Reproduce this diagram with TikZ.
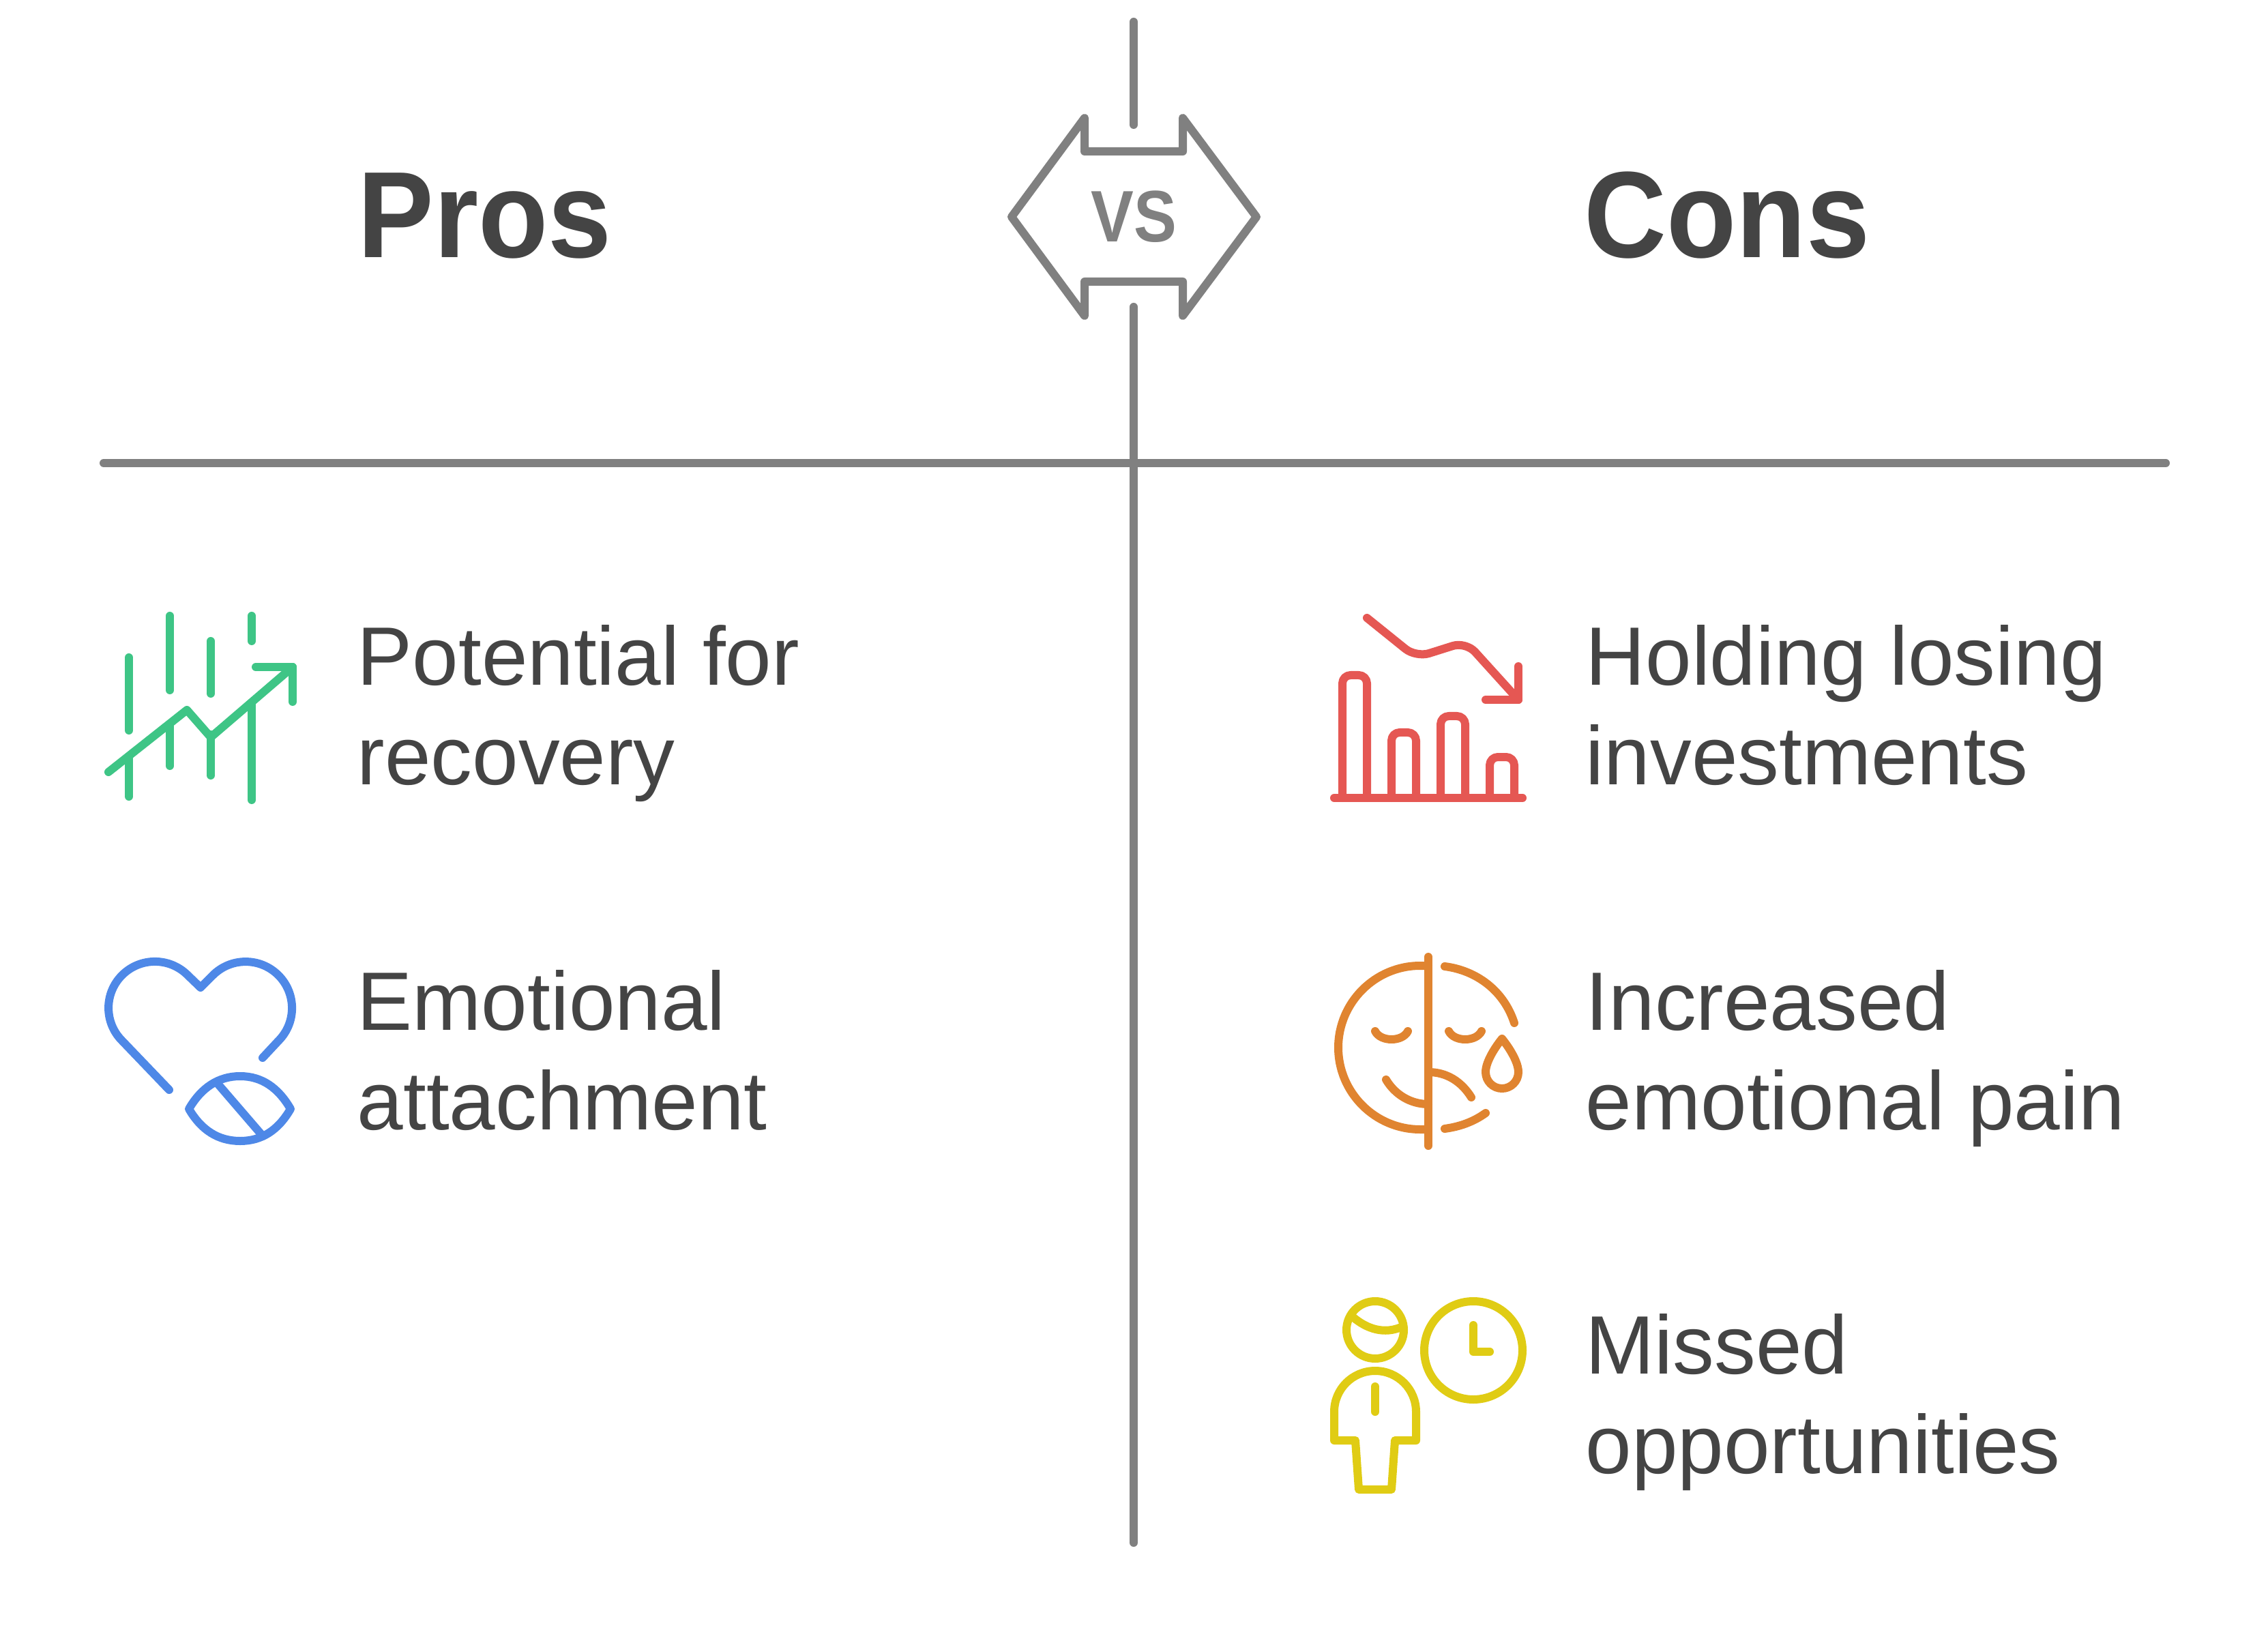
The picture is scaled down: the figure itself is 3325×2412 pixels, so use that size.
\documentclass[tikz,border=0pt]{standalone}
\usepackage{fontspec}
\setmainfont{Liberation Sans}
\newfontface\headface{Liberation Sans Bold}[FakeStretch=0.93]
\newfontface\vsface{Liberation Sans Bold}[FakeStretch=0.88]
\usetikzlibrary{positioning}
\definecolor{greyline}{HTML}{808080}
\definecolor{textgrey}{HTML}{444444}
\definecolor{prosgreen}{HTML}{3EC586}
\definecolor{heartblue}{HTML}{4E88E7}
\definecolor{lossred}{HTML}{E55753}
\definecolor{faceorange}{HTML}{E08430}
\definecolor{clockyellow}{HTML}{E0CC14}
\tikzset{
  axisline/.style = {line width = 1.2mm, color = greyline, line cap = round, line join = round},
  iconline/.style = {line width = 1.2mm, line cap = round, line join = round},
  headtext/.style = {anchor = base west, font = \fontsize{18mm}{18mm}\headface, color = textgrey, inner sep = 0},
  itemtext/.style = {anchor = base west, font = \fontsize{12.15mm}{14.6mm}\selectfont, color = textgrey, inner sep = 0},
}
\begin{document}
\begin{tikzpicture}[x = 0.1mm, y = -0.1mm]
\useasboundingbox (0, 0) rectangle (3325, 2412);
% axes
\coordinate (topa) at (1662, 32);
\coordinate (topb) at (1662, 183);
\coordinate (axisa) at (1662, 450);
\coordinate (axisb) at (1662, 2262);
\coordinate (rowa) at (152, 679);
\coordinate (rowb) at (3175, 679);
\draw [axisline] (topa) -- (topb);
\draw [axisline] (axisa) -- (axisb);
\draw [axisline] (rowa) -- (rowb);
% double arrow
\draw [axisline] (1483, 318) -- (1590, 173) -- (1590, 222) -- (1734, 222) -- (1734, 173) -- (1842, 318) -- (1734, 463) -- (1734, 413) -- (1590, 413) -- (1590, 463) -- cycle;
\node [font = \fontsize{10.7mm}{10.7mm}\vsface, color = greyline, inner sep = 0, anchor = base] (vs) at (1662, 355) {VS};
% headings
\node [headtext] (pros) at (524, 378) {Pros};
\node [headtext] (cons) at (2322, 378) {Cons};
% left items
\node [itemtext] (recovera) at (523, 1005) {Potential for};
\node [itemtext] (recoverb) at (523, 1151) {recovery};
\node [itemtext] (attacha) at (523, 1510) {Emotional};
\node [itemtext] (attachb) at (523, 1656) {attachment};
% right items
\node [itemtext] (holda) at (2324, 1005) {Holding losing};
\node [itemtext] (holdb) at (2324, 1151) {investments};
\node [itemtext] (paina) at (2324, 1510) {Increased};
\node [itemtext] (painb) at (2324, 1656) {emotional pain};
\node [itemtext] (misseda) at (2324, 2014) {Missed};
\node [itemtext] (missedb) at (2324, 2160) {opportunities};
% rising chart
\begin{scope}[iconline, color = prosgreen]
\draw (189, 964) -- (189, 1071);
\draw (189, 1110) -- (189, 1168);
\draw (249, 903) -- (249, 1012);
\draw (249, 1063) -- (249, 1123);
\draw (309, 940) -- (309, 1017);
\draw (309, 1077) -- (309, 1137);
\draw (369, 903) -- (369, 940);
\draw (369, 1030) -- (369, 1173);
\draw (159, 1132) -- (274, 1041) -- (309, 1081) -- (429, 978);
\draw (375, 978) -- (429, 978) -- (429, 1029);
\end{scope}
% heart and pill
\begin{scope}[iconline, color = heartblue]
\draw (248, 1598) -- (179, 1526) arc [start angle = 135, end angle = 315, radius = 68] -- (294, 1448) -- (312, 1430) arc [start angle = 225, end angle = 405, radius = 68] -- (385, 1551);
\draw (277, 1626) .. controls (295, 1595) and (320, 1578) .. (352, 1578) .. controls (384, 1578) and (408, 1595) .. (426, 1626) .. controls (408, 1657) and (384, 1673) .. (352, 1673) .. controls (320, 1673) and (295, 1657) .. cycle;
\draw (320, 1590) -- (382, 1662);
\end{scope}
% falling chart
\begin{scope}[iconline, color = lossred, rounded corners = 1.2mm]
\draw (1968, 1170) -- (1968, 990) -- (2004, 990) -- (2004, 1170);
\draw (2040, 1170) -- (2040, 1074) -- (2076, 1074) -- (2076, 1170);
\draw (2112, 1170) -- (2112, 1050) -- (2148, 1050) -- (2148, 1170);
\draw (2184, 1170) -- (2184, 1110) -- (2220, 1110) -- (2220, 1170);
\draw (1956, 1170) -- (2232, 1170);
\draw [rounded corners = 2mm] (2004, 906) -- (2076, 964) -- (2149, 941) -- (2226, 1026);
\draw [sharp corners] (2178, 1026) -- (2226, 1026) -- (2226, 977);
\end{scope}
% two faces
\begin{scope}[iconline, color = faceorange]
\draw (2094, 1403) -- (2094, 1680);
\draw (2094, 1416) -- (2082, 1416) .. controls (2016, 1416) and (1962, 1470) .. (1962, 1536) .. controls (1962, 1602) and (2016, 1656) .. (2082, 1656) -- (2094, 1656);
\draw (2118, 1417) .. controls (2165, 1423) and (2205, 1453) .. (2220, 1500);
\draw (2118, 1655) .. controls (2140, 1652) and (2160, 1645) .. (2178, 1632);
\draw (2016, 1512) .. controls (2024, 1528) and (2056, 1528) .. (2064, 1512);
\draw (2124, 1512) .. controls (2132, 1528) and (2164, 1528) .. (2172, 1512);
\draw (2032, 1583) .. controls (2045, 1605) and (2068, 1619) .. (2094, 1619);
\draw (2094, 1572) .. controls (2120, 1572) and (2142, 1585) .. (2157, 1609);
\draw (2202, 1523) .. controls (2190, 1538) and (2178, 1558) .. (2178, 1572) arc [start angle = 180, end angle = 0, radius = 24] .. controls (2226, 1558) and (2214, 1538) .. cycle;
\end{scope}
% person and clock
\begin{scope}[iconline, color = clockyellow]
\draw (2016, 1950) circle [radius = 42];
\draw (1982, 1930) .. controls (2005, 1950) and (2030, 1956) .. (2054, 1946);
\draw (2160, 1980) circle [radius = 72];
\draw (2160, 1943) -- (2160, 1982) -- (2184, 1982);
\draw (1956, 2112) -- (1956, 2070) arc [start angle = 180, end angle = 360, radius = 60] -- (2076, 2112) -- (2045, 2112) -- (2040, 2184) -- (1992, 2184) -- (1987, 2112) -- cycle;
\draw (2016, 2033) -- (2016, 2070);
\end{scope}
\end{tikzpicture}
\end{document}
